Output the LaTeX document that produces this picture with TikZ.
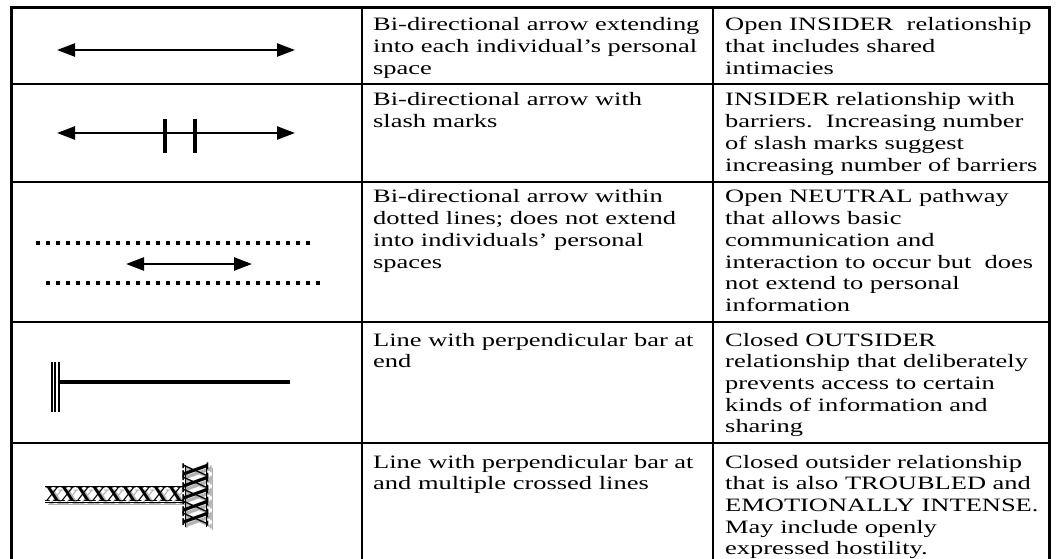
\documentclass[tikz,border=0pt]{standalone}
\usepackage{fontspec}
\setmainfont{Liberation Serif}[FakeStretch=1.4]
\newfontfamily\crossfont{Liberation Serif}
\usetikzlibrary{arrows.meta}

\newcommand{\celltext}[1]{\begin{tabular}[t]{@{}l@{}}#1\end{tabular}}
\tikzset{
  cell/.style={anchor=base west, inner sep=0pt, font=\fontsize{18.9}{21.7}\selectfont},
  frame/.style={line width=3pt},
  rule/.style={line width=1.5pt},
  twoway/.style={line width=2.5pt, {Triangle[length=18pt,width=13pt]}-{Triangle[length=18pt,width=13pt]}},
  dots/.style={line width=4pt, dash pattern=on 4pt off 6pt},
  cross/.style={inner sep=0pt, font=\crossfont\bfseries\fontsize{22}{22}\selectfont},
  shade/.style={cross, text=black!30},
}

\begin{document}
\begin{tikzpicture}[x=1pt, y=-1pt]
\useasboundingbox (0,0) rectangle (1058,559);
% table frame and rules
\draw[frame] (11.5,559) -- (11.5,8) -- (1049.5,8) -- (1049.5,559);
\foreach \y in {84,182,322,443}
  \draw[rule] (11.5,\y) -- (1049.5,\y);
\foreach \x in {362,713}
  \draw[line width=2pt] (\x,8) -- (\x,559);

% row 1: open insider
\draw[twoway] (57,50) -- (295,50);
\node[cell] (r1a) at (373,31) {\celltext{Bi-directional arrow extending\\into each individual’s personal\\space}};
\node[cell] (r1b) at (725,31) {\celltext{Open INSIDER\ \ relationship\\that includes shared\\intimacies}};

% row 2: insider with barriers
\draw[twoway] (57,133) -- (295,133);
\foreach \x in {165,195}
  \draw[line width=3.2pt] (\x,119) -- (\x,153);
\node[cell] (r2a) at (373,106) {\celltext{Bi-directional arrow with\\slash marks}};
\node[cell] (r2b) at (725,106) {\celltext{INSIDER relationship with\\barriers.\ \ Increasing number\\of slash marks suggest\\increasing number of barriers}};

% row 3: neutral pathway
\draw[dots] (36,243) -- (312,243);
\draw[dots] (46,283) -- (322,283);
\draw[twoway] (126,264) -- (252,264);
\node[cell] (r3a) at (373,203) {\celltext{Bi-directional arrow within\\dotted lines; does not extend\\into individuals’ personal\\spaces}};
\node[cell] (r3b) at (725,203) {\celltext{Open NEUTRAL pathway\\that allows basic\\communication and\\interaction to occur but\ \ does\\not extend to personal\\information}};

% row 4: closed outsider
\foreach \x in {51.7,55,59}
  \draw[line width=2pt] (\x,362) -- (\x,412);
\draw[line width=3.5pt] (59,382) -- (290,382);
\node[cell] (r4a) at (373,346) {\celltext{Line with perpendicular bar at\\end}};
\node[cell] (r4b) at (725,346) {\celltext{Closed OUTSIDER\\relationship that deliberately\\prevents access to certain\\kinds of information and\\sharing}};

% row 5: troubled outsider
\foreach \i in {0,...,8}
  \node[shade] (xs\i) at (56.5+\i*15.3,497.5) {X};
\draw[black!30, line width=0.9pt] (48,504.5) -- (188,504.5);
\foreach \i in {0,...,8}
  \node[cross] (xh\i) at (52.6+\i*15.3,494.5) {X};
\draw[line width=0.9pt] (45,486.5) -- (185,486.5);
\draw[line width=0.9pt] (45,502) -- (185,502);
\foreach \i in {0,...,4}
  \node[shade, xscale=1.8, rotate=90] (vs\i) at (199,474+\i*12) {X};
\draw[black!30, line width=0.9pt] (212,468) -- (212,530);
\foreach \i in {0,...,4}
  \node[cross, xscale=1.8, rotate=90] (xv\i) at (195.5,471+\i*12) {X};
\draw[line width=0.9pt] (185.5,465) -- (185.5,527);
\draw[line width=0.9pt] (206,465) -- (206,527);
\node[cell] (r5a) at (373,468) {\celltext{Line with perpendicular bar at\\and multiple crossed lines}};
\node[cell] (r5b) at (725,468) {\celltext{Closed outsider relationship\\that is also TROUBLED and\\EMOTIONALLY INTENSE.\\May include openly\\expressed hostility.}};
\end{tikzpicture}
\end{document}
